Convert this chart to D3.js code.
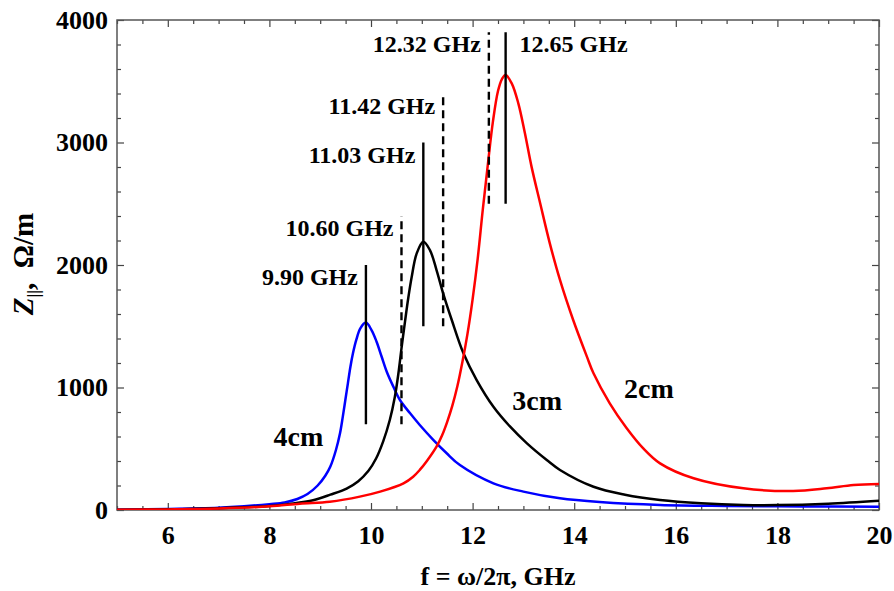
<!DOCTYPE html>
<html>
<head>
<meta charset="utf-8">
<script src="https://cdn.jsdelivr.net/npm/d3@7"></script>
<style>
  body { margin: 0; background: #fff; }
  svg text { font-family: "Liberation Serif", "Times New Roman", serif; font-weight: bold; }
</style>
</head>
<body>
<svg id="chart"></svg>
<script>
// curves: frequency in GHz, impedance in Ohm/m
var freq4cm = [5, 6, 7, 7.5, 8, 8.3, 8.55, 8.75, 8.95, 9.1, 9.2, 9.31, 9.39, 9.445, 9.495, 9.545, 9.595, 9.645, 9.71, 9.79, 9.9, 10.01, 10.11, 10.21, 10.31, 10.44, 10.57, 10.77, 10.96, 11.23, 11.49, 11.75, 12.41, 13.0, 13.72, 14.5, 15.69, 17, 18.5, 20];
var z4cm = [3, 8, 18, 30, 48, 62, 90, 130, 200, 280, 355, 490, 626, 762, 898, 1034, 1170, 1279, 1388, 1483, 1530, 1469, 1374, 1251, 1129, 1007, 898, 789, 694, 571, 463, 367, 218, 150, 95, 65, 41, 33, 29, 27];

var freq3cm = [5, 6, 7, 8, 8.4, 8.86, 9.2, 9.52, 9.75, 9.95, 10.1, 10.24, 10.37, 10.47, 10.54, 10.6, 10.67, 10.73, 10.8, 10.9, 11.03, 11.16, 11.29, 11.42, 11.59, 11.82, 12.08, 12.41, 12.74, 13.07, 13.46, 13.72, 14.38, 15.0, 15.69, 16.5, 17.33, 18.0, 19.0, 20];
var z3cm = [3, 6, 15, 32, 50, 80, 125, 175, 235, 320, 420, 560, 735, 925, 1116, 1320, 1540, 1720, 1900, 2095, 2190, 2122, 1959, 1769, 1551, 1279, 1061, 843, 680, 544, 408, 327, 190, 125, 82, 55, 41, 40, 52, 76];

var freq2cm = [5, 6, 7, 8, 8.6, 9.19, 9.78, 10.18, 10.64, 10.83, 10.96, 11.1, 11.29, 11.4, 11.5, 11.6, 11.7, 11.8, 11.9, 12.0, 12.1, 12.2, 12.3, 12.4, 12.5, 12.58, 12.65, 12.77, 12.9, 13.03, 13.16, 13.33, 13.52, 13.72, 13.98, 14.25, 14.38, 14.7, 15.03, 15.36, 15.69, 16.35, 17.33, 18.31, 18.97, 19.5, 20];
var z2cm = [2, 5, 12, 30, 52, 68, 109, 150, 218, 272, 327, 400, 517, 610, 720, 850, 1010, 1210, 1440, 1720, 2050, 2450, 2820, 3170, 3420, 3520, 3551, 3483, 3320, 3075, 2803, 2504, 2177, 1878, 1551, 1252, 1116, 871, 670, 503, 381, 259, 177, 155, 177, 204, 212];

var curveNames = ["4cm", "3cm", "2cm"];
var curveColors = ["#0000ff", "#000000", "#ff0000"];
// where each curve name sits (GHz, Ohm/m of the baseline centre)
var nameFreq = [8.57, 13.27, 15.47];
var nameZ = [522, 816, 914];

// resonance markers (GHz) and the span of each vertical bar (Ohm/m)
var markFreq = [9.90, 10.60, 11.03, 11.42, 12.32, 12.65];
var markLow = [700, 700, 1500, 1500, 2500, 2500];
var markHigh = [2000, 2400, 3000, 3400, 3900, 3900];
var markDashed = [false, true, false, true, true, false];

var xTicks = [6, 8, 10, 12, 14, 16, 18, 20];
var yTicks = [0, 1000, 2000, 3000, 4000];

var W = 894, H = 591;
var margin = { left: 117, right: 15, top: 20, bottom: 81 },
  width = W - margin.left - margin.right,
  height = H - margin.top - margin.bottom;

document.addEventListener("DOMContentLoaded", function () {
  drawChart();
});

function drawChart() {
  var svg = d3.select("#chart").attr("width", W).attr("height", H);

  var x = d3.scaleLinear().domain([5, 20]).range([0, width]);
  var y = d3.scaleLinear().domain([0, 4000]).range([height, 0]);

  var g = svg.append("g").attr("transform", `translate(${margin.left},${margin.top})`);

  svg.append("defs").append("clipPath").attr("id", "plotclip")
    .append("rect").attr("width", width).attr("height", height);

  // minor ticks
  var xMinor = d3.range(5, 20.01, 0.5).filter((v) => v % 2 != 0);
  var yMinor = d3.range(0, 4001, 200).filter((v) => v % 1000 != 0);

  function styleAxis(sel) {
    sel.select(".domain").remove();
    sel.selectAll(".tick line").attr("stroke", "#444").attr("stroke-width", 1.2);
    sel.selectAll("text").attr("font-size", 26).attr("fill", "#000");
  }

  g.append("g").attr("transform", `translate(0,${height})`)
    .call(d3.axisBottom(x).tickValues(xTicks).tickSize(-7).tickPadding(16).tickFormat(d3.format("d")))
    .call(styleAxis);
  g.append("g").attr("transform", `translate(0,${height})`)
    .call(d3.axisBottom(x).tickValues(xMinor).tickSize(-4).tickFormat(""))
    .call(styleAxis);
  g.append("g")
    .call(d3.axisTop(x).tickValues(xTicks).tickSize(-7).tickFormat(""))
    .call(styleAxis);
  g.append("g")
    .call(d3.axisTop(x).tickValues(xMinor).tickSize(-4).tickFormat(""))
    .call(styleAxis);

  g.append("g")
    .call(d3.axisLeft(y).tickValues(yTicks).tickSize(-7).tickPadding(9).tickFormat(d3.format("d")))
    .call(styleAxis);
  g.append("g")
    .call(d3.axisLeft(y).tickValues(yMinor).tickSize(-4).tickFormat(""))
    .call(styleAxis);
  g.append("g").attr("transform", `translate(${width},0)`)
    .call(d3.axisRight(y).tickValues(yTicks).tickSize(-7).tickFormat(""))
    .call(styleAxis);
  g.append("g").attr("transform", `translate(${width},0)`)
    .call(d3.axisRight(y).tickValues(yMinor).tickSize(-4).tickFormat(""))
    .call(styleAxis);

  // frame
  g.append("rect")
    .attr("width", width).attr("height", height)
    .attr("fill", "none").attr("stroke", "#555").attr("stroke-width", 1.5);

  // curves
  var series = [
    { name: "4cm", f: freq4cm, z: z4cm },
    { name: "3cm", f: freq3cm, z: z3cm },
    { name: "2cm", f: freq2cm, z: z2cm },
  ];
  var line = d3.line()
    .x((d) => x(d[0]))
    .y((d) => y(d[1]))
    .curve(d3.curveCatmullRom.alpha(0.5));

  var plot = g.append("g").attr("clip-path", "url(#plotclip)");
  plot.selectAll("path.curve")
    .data(series)
    .enter()
    .append("path")
    .attr("class", "curve")
    .attr("d", (s) => line(s.f.map((f, i) => [f, s.z[i]])))
    .attr("fill", "none")
    .attr("stroke", (s, i) => curveColors[i])
    .attr("stroke-width", 2.5);

  // resonance bars
  var marks = markFreq.map((f, i) => ({ f: f, lo: markLow[i], hi: markHigh[i], dashed: markDashed[i] }));
  g.selectAll("line.mark")
    .data(marks)
    .enter()
    .append("line")
    .attr("class", "mark")
    .attr("x1", (d) => x(d.f)).attr("x2", (d) => x(d.f))
    .attr("y1", (d) => y(d.lo)).attr("y2", (d) => y(d.hi))
    .attr("stroke", "#000")
    .attr("stroke-width", 2.4)
    .attr("stroke-dasharray", (d) => (d.dashed ? "8,5" : null));

  // marker labels (left of the bar, except the last one)
  g.selectAll("text.marklabel")
    .data(marks)
    .enter()
    .append("text")
    .attr("class", "marklabel")
    .attr("x", (d, i) => (i == 5 ? x(d.f) + 14 : x(d.f) - 8))
    .attr("y", (d) => y(d.hi) + 20)
    .attr("text-anchor", (d, i) => (i == 5 ? "start" : "end"))
    .attr("font-size", 24)
    .text((d) => d.f.toFixed(2) + " GHz");

  // curve names
  g.selectAll("text.cname")
    .data(curveNames)
    .enter()
    .append("text")
    .attr("class", "cname")
    .attr("x", (d, i) => x(nameFreq[i]))
    .attr("y", (d, i) => y(nameZ[i]))
    .attr("text-anchor", "middle")
    .attr("font-size", 28)
    .text((d) => d);

  // axis titles
  svg.append("text")
    .attr("x", margin.left + width / 2)
    .attr("y", 585)
    .attr("text-anchor", "middle")
    .attr("font-size", 26)
    .text("f = ω/2π, GHz");

  var yt = svg.append("text")
    .attr("transform", "translate(33,264) rotate(-90)")
    .attr("text-anchor", "middle")
    .attr("font-size", 29);
  yt.append("tspan").attr("font-style", "italic").text("Z");
  yt.append("tspan").attr("font-size", 17).attr("dy", 6).text("||");
  yt.append("tspan").attr("dy", -6).attr("xml:space", "preserve").text(",  Ω/m");
}
</script>
</body>
</html>
